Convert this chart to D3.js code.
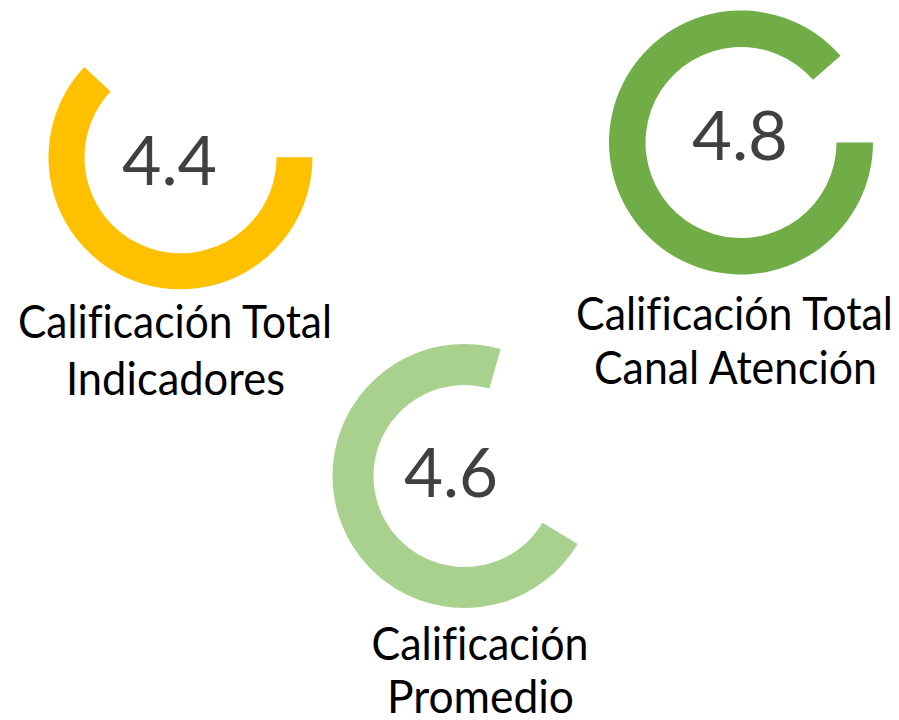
<!DOCTYPE html>
<html>
<head>
<meta charset="utf-8">
<script src="https://cdn.jsdelivr.net/npm/d3@7"></script>
<style>
  html, body { margin: 0; padding: 0; background: #fff; }
  svg { display: block; }
  text { font-variant-ligatures: none; font-feature-settings: "liga" 0; }
</style>
</head>
<body>
<div class="gauges"></div>
<script>
// Data
var values = [4.4, 4.8, 4.6];
var shares = [0.62, 0.886, 0.708];          // filled part of each ring
var labelLines = [
    ["Calificación Total", "Indicadores"],
    ["Calificación Total", "Canal Atención"],
    ["Calificación", "Promedio"]
];
var colors = ["#FFC000", "#70AD47", "#A9D18E"];

// Layout of each gauge (centre, radii, rotation in degrees, text spots)
var layout = [
    { cx: 180.5, cy: 157.3, r0: 96, r1: 132, rot: 90,
      num: [169.5, 184.5, 95], lines: [[175, 338, 314], [175.5, 395, 219]] },
    { cx: 741, cy: 142.5, r0: 95.5, r1: 132, rot: 90,
      num: [740, 159.5, 96], lines: [[734.5, 330, 317], [735.5, 384, 283]] },
    { cx: 464.5, cy: 476, r0: 91, r1: 132, rot: 121,
      num: [451, 497, 94], lines: [[480, 660, 217], [480.5, 713, 187]] }
];

var width = 899, height = 720;

var svg = d3.select(".gauges").append("svg")
    .attr("width", width)
    .attr("height", height);

values.forEach(function(v, i) {
    var L = layout[i];
    var start = L.rot * Math.PI / 180;

    //Pie over the filled part and the rest, starting at the gauge rotation.
    var pie = d3.pie().sort(null).value(function(d) { return d; })
        .startAngle(start)
        .endAngle(start + 2 * Math.PI);

    var arc = d3.arc().innerRadius(L.r0).outerRadius(L.r1);

    var g = svg.append("g").attr("transform", "translate(" + L.cx + "," + L.cy + ")");

    g.selectAll("path").data(pie([shares[i], 1 - shares[i]])).enter()
        .append("path")
        .attr("d", arc)
        .attr("fill", function(d, j) { return j === 0 ? colors[i] : "none"; });

    //The value in the middle.
    svg.append("text")
        .attr("x", L.num[0])
        .attr("y", L.num[1])
        .attr("text-anchor", "middle")
        .attr("font-family", "Lato, 'Open Sans', sans-serif")
        .attr("font-size", 67)
        .attr("fill", "#404040")
        .attr("textLength", L.num[2])
        .attr("lengthAdjust", "spacingAndGlyphs")
        .text(d3.format(".1f")(v));

    //The label under it.
    labelLines[i].forEach(function(line, k) {
        svg.append("text")
            .attr("x", L.lines[k][0])
            .attr("y", L.lines[k][1])
            .attr("text-anchor", "middle")
            .attr("font-family", "Lato, 'Open Sans', sans-serif")
            .attr("font-size", 47)
            .attr("fill", "#000")
            .attr("textLength", L.lines[k][2])
            .attr("lengthAdjust", "spacingAndGlyphs")
            .text(line);
    });
});
</script>
</body>
</html>
